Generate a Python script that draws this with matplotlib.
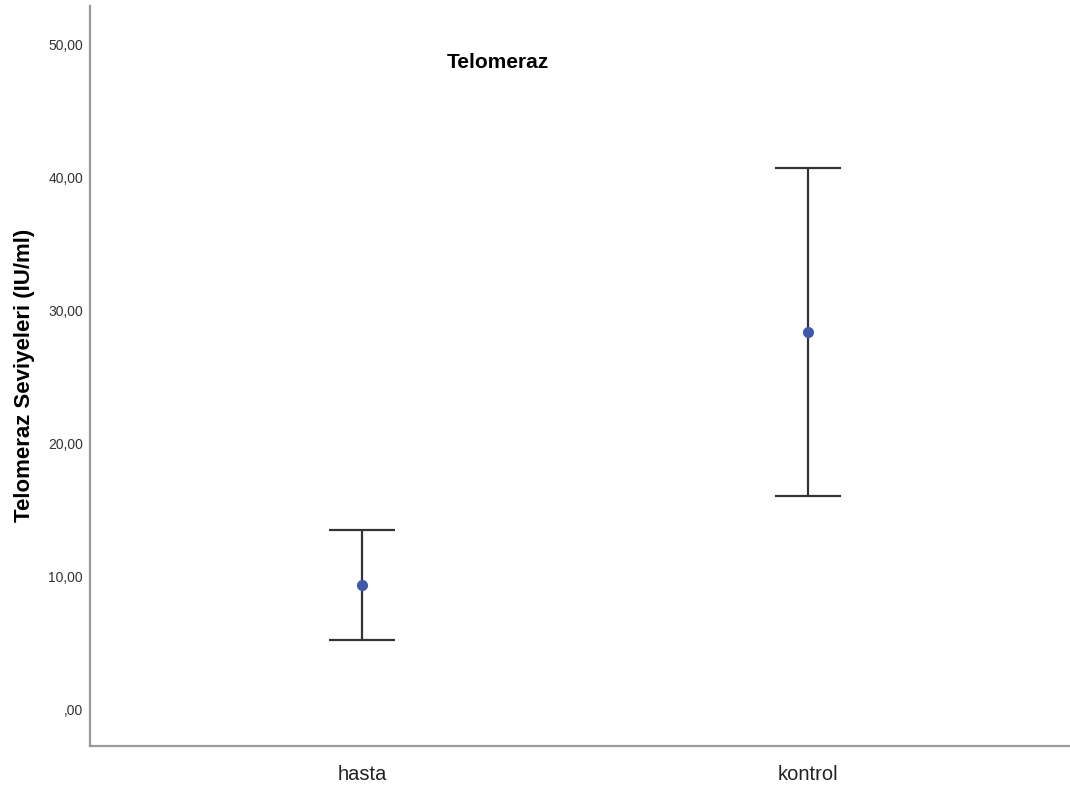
import numpy as np
import matplotlib.pyplot as plt

plt.rcParams['font.family'] = ['Liberation Sans', 'DejaVu Sans']

# =========================
# Data
# =========================
groups = ["hasta", "kontrol"]
means = [9.42, 28.42]
ci_low = [5.26, 16.09]
ci_high = [13.53, 40.75]
yticks = [0, 10, 20, 30, 40, 50]
ytick_labels = [",00", "10,00", "20,00", "30,00", "40,00", "50,00"]

x = np.arange(len(groups))
means = np.array(means)
err = np.array([means - np.array(ci_low), np.array(ci_high) - means])

fig = plt.figure(figsize=(10.7, 7.85), dpi=100)
ax = fig.add_axes([90 / 1070, 39.5 / 785, 1 - 90 / 1070, (745.5 - 6) / 785])

ax.errorbar(x, means, yerr=err, fmt="none", ecolor="#333333",
            elinewidth=1.6, capsize=24, capthick=1.6, zorder=2)
ax.plot(x, means, "o", color="#3e5aa8", markersize=7, zorder=3)

ax.set_xlim(-0.61, 1.587)
ax.set_ylim(-2.67, 52.93)

ax.set_xticks(x)
ax.set_xticklabels(groups, fontsize=14.5, color="#222222")
ax.set_yticks(yticks)
ax.set_yticklabels(ytick_labels, fontsize=10, color="#333333")
ax.tick_params(axis="both", length=0)
ax.tick_params(axis="x", pad=14)
ax.tick_params(axis="y", pad=5)

for s in ["top", "right"]:
    ax.spines[s].set_visible(False)
for s in ["left", "bottom"]:
    ax.spines[s].set_color("#999999")
    ax.spines[s].set_linewidth(1.6)

ax.set_ylabel("Telomeraz Seviyeleri (IU/ml)", fontsize=16, fontweight="bold")
ax.yaxis.set_label_coords(-55 / 980, (745.5 - 375) / 739.5)

ax.text((498 - 90) / 980, (745.5 - 62) / 739.5, "Telomeraz", transform=ax.transAxes,
        ha="center", va="center", fontsize=15, fontweight="bold")

fig.savefig("out.png", dpi=100)
